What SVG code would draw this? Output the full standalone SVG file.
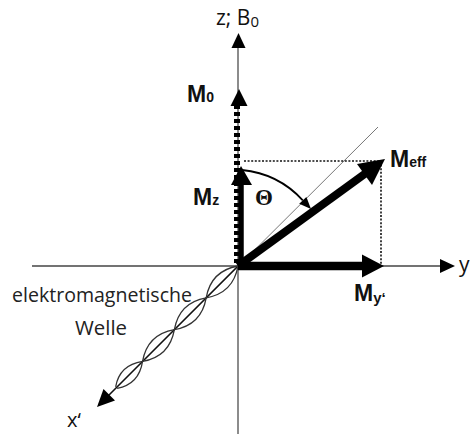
<svg xmlns="http://www.w3.org/2000/svg" width="475" height="434" viewBox="0 0 475 434">
<style>
.lbl{font-family:"Liberation Sans",Arial,sans-serif;font-weight:bold;fill:#111}
.ax{font-family:"Open Sans","Liberation Sans",sans-serif;fill:#111}
.txt{font-family:"Open Sans","Liberation Sans",sans-serif;fill:#222;font-size:20px}
.dot{stroke:#111;stroke-width:1.6;stroke-dasharray:2,1.6;fill:none}
.wave{fill:none;stroke:#333;stroke-width:1.3}
</style>
<rect width="475" height="434" fill="#fff"/>
<g id="connectors">
  <line x1="32" y1="266" x2="442" y2="266" stroke="#444" stroke-width="1.5"/>
  <polygon points="455,266 440,259 440,273" fill="#000"/>
  <line x1="238" y1="434" x2="238" y2="46" stroke="#666" stroke-width="1.5"/>
  <polygon points="238.5,33 231.5,48 245.5,48" fill="#000"/>
  <line x1="378" y1="127" x2="104" y2="400" stroke="#777" stroke-width="1"/>
  <line x1="238" y1="266" x2="104" y2="400" stroke="#111" stroke-width="1.6"/>
  <polygon points="97,407 103.5,389 115,400.5" fill="#000"/>
  <g transform="translate(238,266) rotate(135)">
    <path class="wave" d="M0,0 C15,10.5 30,10.5 45,0 C60,-10.5 75,-10.5 90,0 C105,10.5 120,10.5 135,0 C148,-9.5 160,-9.5 172,-1"/>
    <path class="wave" d="M0,0 C15,-10.5 30,-10.5 45,0 C60,10.5 75,10.5 90,0 C105,-10.5 120,-10.5 135,0 C148,9.5 160,9.5 172,1"/>
  </g>
  <line class="dot" x1="244" y1="161" x2="383" y2="161"/>
  <line class="dot" x1="381" y1="161" x2="381" y2="266"/>
  <line x1="237" y1="105" x2="237" y2="266" stroke="#000" stroke-width="6" stroke-dasharray="4,3"/>
  <polygon points="239,89 230.5,106 247.5,106" fill="#000"/>
  <line x1="241" y1="266" x2="241" y2="182" stroke="#000" stroke-width="5.5"/>
  <polygon points="241,166 231,185 252,185" fill="#000"/>
  <line x1="238" y1="266" x2="366" y2="173" stroke="#000" stroke-width="8"/>
  <polygon points="385,159 357,164 372,185" fill="#000"/>
  <line x1="238" y1="266" x2="365" y2="266" stroke="#000" stroke-width="8.5"/>
  <polygon points="384,266 362,254.5 362,277.5" fill="#000"/>
  <path d="M242,170 A95,95 0 0 1 302.8,200.3" fill="none" stroke="#000" stroke-width="1.8"/>
  <polygon points="311,209 306.4,196.9 299.2,203.7" fill="#000"/>
</g>
<g id="axis-z"><text class="ax" x="216" y="25" font-size="21">z; B<tspan font-size="15" dy="2">0</tspan></text></g>
<g id="axis-y"><text class="ax" x="459" y="272" font-size="21">y</text></g>
<g id="axis-x"><text class="ax" x="67" y="427" font-size="20">x‘</text></g>
<g id="M0"><text class="lbl" x="187" y="102" font-size="23">M<tspan font-size="14">0</tspan></text></g>
<g id="Mz"><text class="lbl" x="193" y="205" font-size="23">M<tspan font-size="14">z</tspan></text></g>
<g id="theta"><text x="255" y="205" font-family="Liberation Serif,serif" font-weight="bold" font-size="23" fill="#111">Θ</text></g>
<g id="Meff"><text class="lbl" x="390" y="167" font-size="23">M<tspan font-size="14">eff</tspan></text></g>
<g id="My"><text class="lbl" x="354" y="301" font-size="23">M<tspan font-size="15" dy="2">y‘</tspan></text></g>
<g id="wave-label">
  <text class="txt" x="12" y="302" textLength="180" lengthAdjust="spacingAndGlyphs">elektromagnetische</text>
  <text class="txt" x="75" y="335" textLength="52" lengthAdjust="spacingAndGlyphs">Welle</text>
</g>
</svg>
